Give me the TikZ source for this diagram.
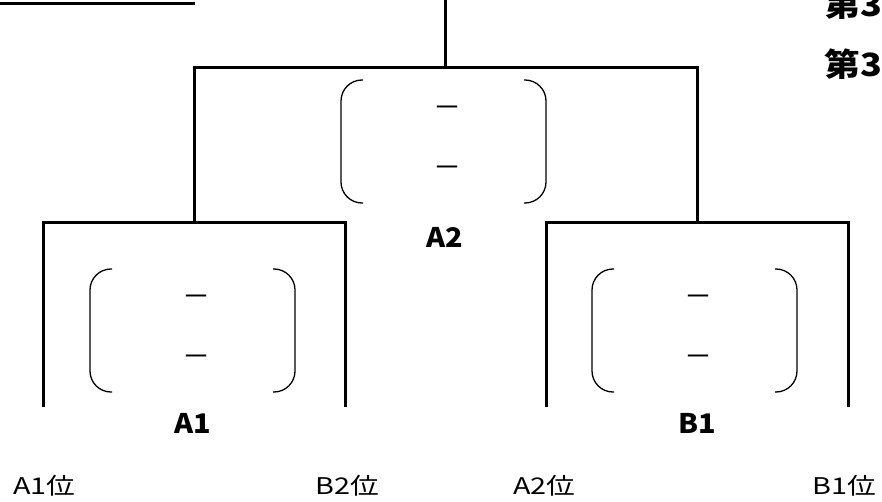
\documentclass[tikz,border=0pt]{standalone}
\usepackage{fontspec}
\setmainfont{Noto Sans CJK JP}
\newfontfamily\seedfont[FakeStretch=1.25]{Noto Sans CJK JP}
\newfontfamily\teamfont[FakeStretch=1.07]{Noto Sans CJK JP}
\newfontfamily\rankfont[FakeStretch=1.12]{Noto Sans CJK JP}

\begin{document}
\begin{tikzpicture}[x=1pt,y=-1pt,
  frame/.style={black,line width=3pt},
  paren/.style={black,line width=1.3pt,rounded corners=21pt},
  team/.style={inner sep=0pt,font=\teamfont\bfseries\fontsize{27}{27}\selectfont},
  seed/.style={inner sep=0pt,anchor=west,font=\seedfont\fontsize{23}{23}\selectfont},
  rank/.style={inner sep=0pt,anchor=west,font=\rankfont\bfseries\fontsize{32}{32}\selectfont},
  score/.style={inner sep=0pt,font=\fontsize{28}{28}\selectfont}]
\useasboundingbox (0,0) rectangle (882,502);
% top rule and final
\draw [frame] (0,3.5) -- (195,3.5);
\coordinate (final) at (445,0);
\coordinate (finalL) at (194,68);
\coordinate (finalR) at (697,68);
\draw [frame] (final) -- (final |- finalL);
\draw [frame] (194,222) -- (finalL) -- (finalR) -- (697,222);
% semi finals
\coordinate (semiAL) at (43,223);
\coordinate (semiAR) at (345,223);
\draw [frame] (43,407) -- (semiAL) -- (semiAR) -- (345,407);
\coordinate (semiBL) at (546,223);
\coordinate (semiBR) at (848,223);
\draw [frame] (546,407) -- (semiBL) -- (semiBR) -- (848,407);
% score brackets
\foreach \cx/\ty in {193/269, 695/269, 444/80} {
  \draw [paren] (\cx-81,\ty) -- (\cx-103,\ty) -- (\cx-103,\ty+123) -- (\cx-81,\ty+123);
  \draw [paren] (\cx+80,\ty) -- (\cx+102,\ty) -- (\cx+102,\ty+123) -- (\cx+80,\ty+123);
  \node [score] at (\cx+3,\ty+31.5) {－};
  \node [score] at (\cx+3,\ty+92) {－};
}
% labels
\node [team] (lblA2) at (445,237) {A2};
\node [team] (lblA1) at (193,423) {A1};
\node [team] (lblB1) at (697,423) {B1};
\node [seed] (seedA1) at (13,486) {A1位};
\node [seed] (seedB2) at (315,486) {B2位};
\node [seed] (seedA2) at (513,486) {A2位};
\node [seed] (seedB1) at (812,486) {B1位};
\node [rank] (rank1) at (824,4) {第3};
\node [rank] (rank2) at (824,64) {第3};
\end{tikzpicture}
\end{document}
